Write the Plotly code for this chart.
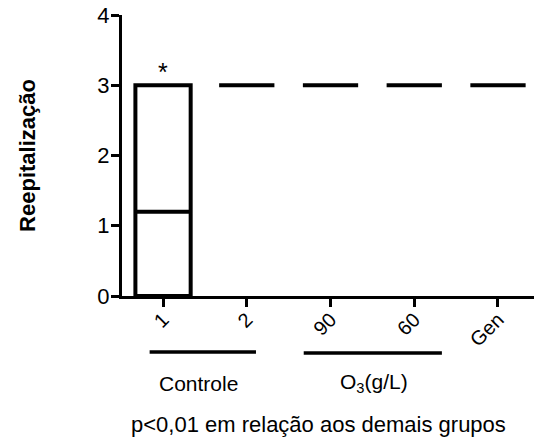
import plotly.graph_objects as go

# Groups and box statistics (Reepitalização score)
groups = ["1", "2", "90", "60", "Gen"]
q1 = [0, 3, 3, 3, 3]
medians = [1.2, 3, 3, 3, 3]
q3 = [3, 3, 3, 3, 3]
lower = [0, 3, 3, 3, 3]
upper = [3, 3, 3, 3, 3]
y_ticks = [0, 1, 2, 3, 4]

FONT = "Liberation Sans, Arial, sans-serif"

fig = go.Figure()
fig.add_trace(go.Box(
    x=groups, q1=q1, median=medians, q3=q3,
    lowerfence=lower, upperfence=upper,
    width=0.66,
    fillcolor="white",
    line=dict(color="black", width=4),
    whiskerwidth=0,
    boxpoints=False,
    hoverinfo="skip",
    showlegend=False,
))

# significance marker above the first group (category index 0)
fig.add_annotation(x=0, y=q3[0], text="*", showarrow=False,
                   yanchor="bottom", yshift=-3,
                   font=dict(family=FONT, size=25, color="black"))

# group brackets under the axis
fig.add_shape(type="line", xref="x", yref="paper", x0=-0.16, x1=1.11,
              y0=-0.199, y1=-0.199, line=dict(color="black", width=3.5))
fig.add_shape(type="line", xref="x", yref="paper", x0=1.68, x1=3.33,
              y0=-0.203, y1=-0.203, line=dict(color="black", width=3.5))
fig.add_annotation(x=0.42, y=-0.31, xref="x", yref="paper", text="Controle",
                   yanchor="middle", showarrow=False,
                   font=dict(family=FONT, size=21, color="black"))
fig.add_annotation(x=2.52, y=-0.31, xref="x", yref="paper", text="O<sub>3</sub>(g/L)",
                   yanchor="middle", showarrow=False,
                   font=dict(family=FONT, size=21, color="black"))
fig.add_annotation(x=(318 - 122) / 412, y=-0.459, xref="paper", yref="paper",
                   text="p<0,01 em relação aos demais grupos",
                   yanchor="middle", showarrow=False,
                   font=dict(family=FONT, size=22, color="black"))

fig.update_layout(
    width=534, height=444,
    margin=dict(l=122, r=0, t=15, b=148),
    paper_bgcolor="white", plot_bgcolor="white",
    font=dict(family=FONT, color="black"),
)
fig.update_xaxes(
    type="category", range=[-0.49, 4.43],
    showline=True, linecolor="black", linewidth=3,
    ticks="outside", ticklen=8, tickwidth=3, tickcolor="black",
    tickangle=-45, tickfont=dict(family=FONT, size=20, color="black"),
    ticklabelstandoff=-7,
    showgrid=False, zeroline=False,
)
fig.update_yaxes(
    range=[0, 4], tickvals=y_ticks,
    showline=True, linecolor="black", linewidth=3,
    ticks="outside", ticklen=8, tickwidth=3, tickcolor="black",
    tickfont=dict(family=FONT, size=22, color="black"),
    ticklabelstandoff=-3,
    showgrid=False, zeroline=False,
    title=dict(text="<b>Reepitalização</b>", standoff=56,
               font=dict(family=FONT, size=22, color="black")),
)

fig.write_html("out.html")
